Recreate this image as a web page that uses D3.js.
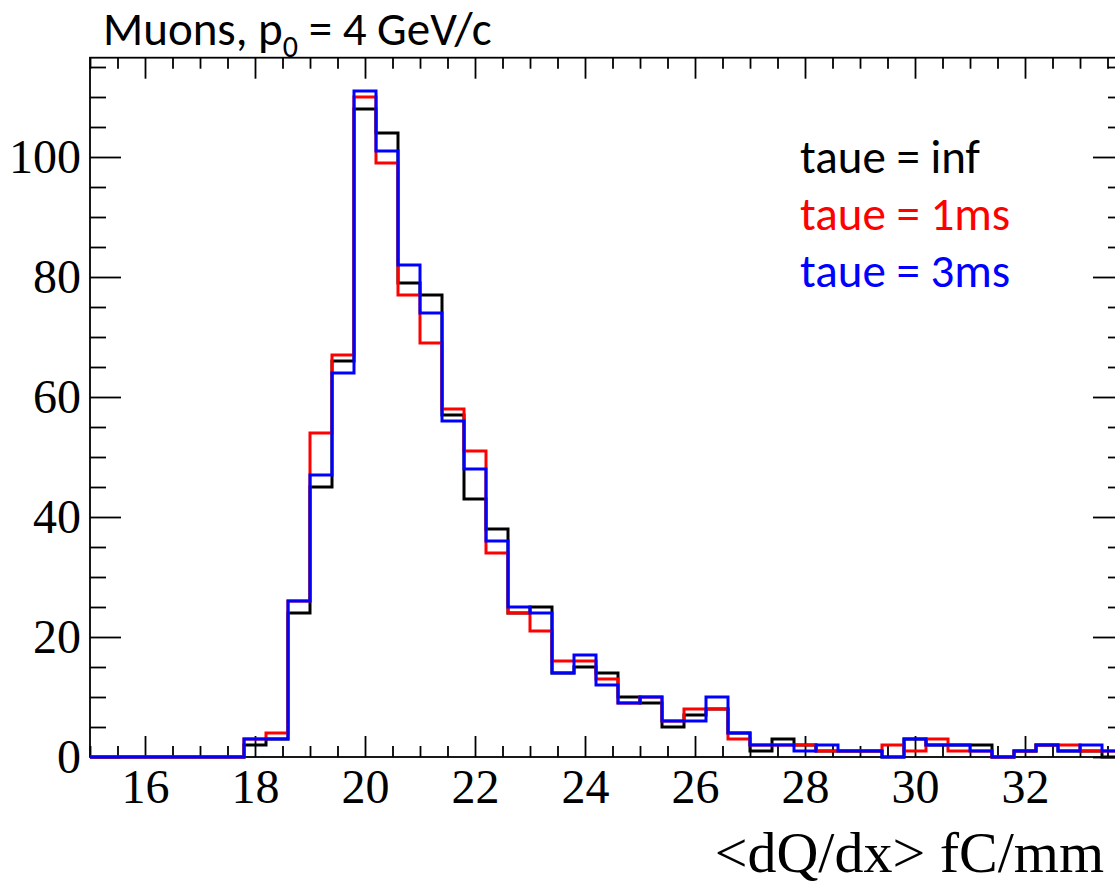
<!DOCTYPE html>
<html>
<head>
<meta charset="utf-8">
<script src="https://cdn.jsdelivr.net/npm/d3@7"></script>
<style>
  html, body { margin: 0; padding: 0; background: #fff; }
  svg { display: block; }
</style>
</head>
<body>
<svg id="chart" width="1115" height="884"></svg>
<script>
// Bin layout: 47 bins of 0.4 fC/mm starting at 15
const binStart = 15.0;
const binWidth = 0.4;

// Counts per bin, electron lifetime = inf
const countsInf = [0, 0, 0, 0, 0, 0, 0, 2, 3, 24, 45, 66, 108, 104, 79, 77, 57, 43, 38, 24,
  25, 14, 15, 14, 10, 9, 5, 7, 8, 4, 1, 3, 2, 1, 1, 1, 0, 3, 2, 2,
  2, 0, 1, 2, 1, 1, 0];
// Counts per bin, electron lifetime = 1 ms
const counts1ms = [0, 0, 0, 0, 0, 0, 0, 3, 4, 26, 54, 67, 110, 99, 77, 69, 58, 51, 34, 24,
  21, 16, 16, 13, 9, 10, 6, 8, 8, 3, 2, 2, 2, 1, 1, 1, 2, 1, 3, 1,
  1, 0, 1, 2, 2, 1, 1];
// Counts per bin, electron lifetime = 3 ms
const counts3ms = [0, 0, 0, 0, 0, 0, 0, 3, 3, 26, 47, 64, 111, 101, 82, 74, 56, 48, 36, 25,
  24, 14, 17, 12, 9, 10, 6, 6, 10, 4, 2, 2, 1, 2, 1, 1, 0, 3, 2, 2,
  1, 0, 1, 2, 1, 2, 1];

const seriesNames = ["taue = inf", "taue = 1ms", "taue = 3ms"];
const seriesColors = ["#000000", "#ff0000", "#0000ff"];

const xMajorTicks = [16, 18, 20, 22, 24, 26, 28, 30, 32];
const yMajorTicks = [0, 20, 40, 60, 80, 100];
const xTitle = "<dQ/dx> fC/mm";

const nBins = countsInf.length;
const xMax = binStart + nBins * binWidth;
const yMax = 116.55;

const svg = d3.select("#chart");
const plot = { left: 90, right: 1124, top: 57.7, bottom: 757 };

const x = d3.scaleLinear().domain([binStart, xMax]).range([plot.left, plot.right]);
const y = d3.scaleLinear().domain([0, yMax]).range([plot.bottom, plot.top]);

const xMinor = d3.range(binStart, xMax + 1e-9, 0.5).filter(v => !xMajorTicks.includes(v));
const yMinor = d3.range(0, yMax, 5).filter(v => !yMajorTicks.includes(v));

const serif = "'Liberation Serif', 'Times New Roman', serif";
const sans = "Carlito, Calibri, Lato, 'Open Sans', sans-serif";

function styleAxis(g) {
  g.select(".domain").remove();
  g.selectAll(".tick line").attr("stroke", "#000").attr("stroke-width", 1.8);
  g.selectAll(".tick text").attr("fill", "#000").attr("font-family", serif).attr("font-size", 48);
}

// Bottom axis: labelled major ticks and minor ticks, pointing inward
svg.append("g")
  .attr("transform", `translate(0,${plot.bottom})`)
  .call(d3.axisBottom(x).tickValues(xMajorTicks).tickSizeInner(-21).tickSizeOuter(0).tickPadding(12)
    .tickFormat(d3.format("d")))
  .call(styleAxis);
svg.append("g")
  .attr("transform", `translate(0,${plot.bottom})`)
  .call(d3.axisBottom(x).tickValues(xMinor).tickSizeInner(-11).tickSizeOuter(0).tickFormat(""))
  .call(styleAxis);

// Top axis mirror
svg.append("g")
  .attr("transform", `translate(0,${plot.top})`)
  .call(d3.axisTop(x).tickValues(xMajorTicks).tickSizeInner(-21).tickSizeOuter(0).tickFormat(""))
  .call(styleAxis);
svg.append("g")
  .attr("transform", `translate(0,${plot.top})`)
  .call(d3.axisTop(x).tickValues(xMinor).tickSizeInner(-11).tickSizeOuter(0).tickFormat(""))
  .call(styleAxis);

// Left axis
svg.append("g")
  .attr("transform", `translate(${plot.left},0)`)
  .call(d3.axisLeft(y).tickValues(yMajorTicks).tickSizeInner(-31).tickSizeOuter(0).tickPadding(9)
    .tickFormat(d3.format("d")))
  .call(styleAxis);
svg.append("g")
  .attr("transform", `translate(${plot.left},0)`)
  .call(d3.axisLeft(y).tickValues(yMinor).tickSizeInner(-16).tickSizeOuter(0).tickFormat(""))
  .call(styleAxis);

// Right axis mirror
svg.append("g")
  .attr("transform", `translate(${plot.right},0)`)
  .call(d3.axisRight(y).tickValues(yMajorTicks).tickSizeInner(-31).tickSizeOuter(0).tickFormat(""))
  .call(styleAxis);
svg.append("g")
  .attr("transform", `translate(${plot.right},0)`)
  .call(d3.axisRight(y).tickValues(yMinor).tickSizeInner(-16).tickSizeOuter(0).tickFormat(""))
  .call(styleAxis);

// Frame
svg.append("rect")
  .attr("x", plot.left).attr("y", plot.top)
  .attr("width", plot.right - plot.left).attr("height", plot.bottom - plot.top)
  .attr("fill", "none").attr("stroke", "#000").attr("stroke-width", 1.8);

// Histogram outlines, drawn as steps through the bin edges
const stepLine = d3.line()
  .x(d => x(d[0]))
  .y(d => y(d[1]))
  .curve(d3.curveStepAfter);

function stepPoints(counts) {
  const pts = counts.map((c, i) => [binStart + i * binWidth, c]);
  pts.push([xMax, counts[counts.length - 1]]);
  return pts;
}

[countsInf, counts1ms, counts3ms].forEach((counts, k) => {
  svg.append("path")
    .datum(stepPoints(counts))
    .attr("d", stepLine)
    .attr("fill", "none")
    .attr("stroke", seriesColors[k])
    .attr("stroke-width", 3)
    .attr("stroke-linejoin", "miter");
});

// X axis title
svg.append("text")
  .attr("x", 1104).attr("y", 872)
  .attr("text-anchor", "end")
  .attr("font-family", serif).attr("font-size", 58)
  .attr("fill", "#000")
  .text(xTitle);

// Title with subscripted momentum symbol
const title = svg.append("text")
  .attr("x", 103).attr("y", 45)
  .attr("font-family", sans).attr("font-size", 47)
  .attr("fill", "#000");
title.append("tspan").text("Muons, p");
title.append("tspan").attr("font-size", 30).attr("dy", 12).text("0");
title.append("tspan").attr("dy", -12).text(" = 4 GeV/c");

// Legend
const legendY = [173, 230, 287];
seriesNames.forEach((name, k) => {
  svg.append("text")
    .attr("x", 800).attr("y", legendY[k])
    .attr("font-family", sans).attr("font-size", 47)
    .attr("fill", seriesColors[k])
    .text(name);
});
</script>
</body>
</html>
